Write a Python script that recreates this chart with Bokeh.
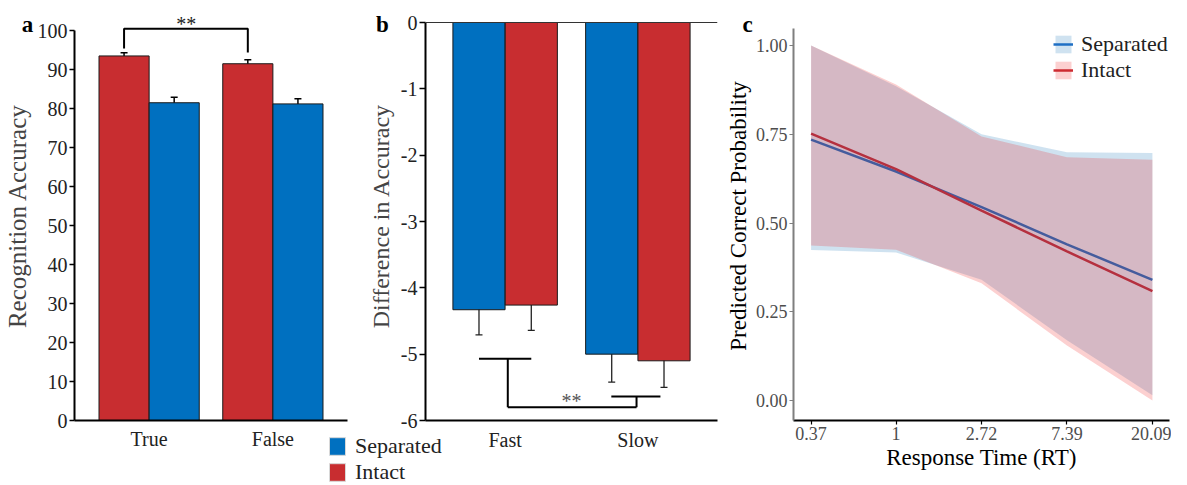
import math
from bokeh.plotting import figure
from bokeh.layouts import row, column
from bokeh.models import (ColumnDataSource, FactorRange, Range1d, Label, Legend,
                          LegendItem, Span, FixedTicker, TeeHead, Whisker)
from bokeh.transform import dodge
from bokeh.embed import file_html
from bokeh.resources import INLINE

FONT = "Liberation Serif"
RED = "#c82d30"
BLUE = "#0070c0"
EDGE = "#1a1a1a"

# ---------------- data: panel a ----------------
a_categories = ["True", "False"]
a_intact = [93.5, 91.5]
a_intact_err = [0.8, 1.0]
a_separated = [81.5, 81.2]
a_separated_err = [1.4, 1.3]
a_yticks = [0, 10, 20, 30, 40, 50, 60, 70, 80, 90, 100]

# ---------------- data: panel b ----------------
b_categories = ["Fast", "Slow"]
b_separated = [-4.33, -5.00]
b_separated_err = [0.38, 0.42]
b_intact = [-4.26, -5.10]
b_intact_err = [0.38, 0.40]
b_yticks = [0, -1, -2, -3, -4, -5, -6]
b_ytick_labels = ["0", "-1", "-2", "-3", "-4", "-5", "-6"]

# ---------------- data: panel c ----------------
c_rt = [0.37, 1, 2.72, 7.39, 20.09]
c_rt_labels = ["0.37", "1", "2.72", "7.39", "20.09"]
c_sep_fit = [0.735, 0.645, 0.545, 0.440, 0.340]
c_sep_lo = [0.424, 0.417, 0.340, 0.170, 0.015]
c_sep_hi = [1.000, 0.885, 0.750, 0.699, 0.697]
c_int_fit = [0.752, 0.652, 0.535, 0.420, 0.308]
c_int_lo = [0.437, 0.425, 0.330, 0.155, 0.000]
c_int_hi = [1.000, 0.890, 0.744, 0.685, 0.678]
c_yticks = [0, 0.25, 0.5, 0.75, 1.0]
c_ytick_labels = ["0.00", "0.25", "0.50", "0.75", "1.00"]

panel_letters = ["a", "b", "c"]
legend_labels = ["Separated", "Intact"]

H = 485
TOP, BOTTOM = 11, 65


def style_common(p):
    p.grid.grid_line_color = None
    p.outline_line_color = None
    p.axis.axis_label_text_font = FONT
    p.axis.axis_label_text_font_style = "normal"
    p.axis.major_label_text_font = FONT
    p.axis.minor_tick_line_color = None


# ================= panel a =================
pa = figure(width=442, height=H, output_backend="svg", toolbar_location=None,
            x_range=FactorRange(*a_categories, range_padding=0.103),
            y_range=Range1d(0, 104.9),
            min_border_left=69, min_border_right=95, min_border_top=TOP, min_border_bottom=BOTTOM)
style_common(pa)
src_a = ColumnDataSource(dict(
    cat=a_categories,
    intact=a_intact,
    intact_lo=[v - e for v, e in zip(a_intact, a_intact_err)],
    intact_hi=[v + e for v, e in zip(a_intact, a_intact_err)],
    sep=a_separated,
    sep_lo=[v - e for v, e in zip(a_separated, a_separated_err)],
    sep_hi=[v + e for v, e in zip(a_separated, a_separated_err)],
))
pa.vbar(x=dodge("cat", -0.2025, range=pa.x_range), top="intact", width=0.405,
        source=src_a, fill_color=RED, line_color=EDGE, line_width=1)
pa.vbar(x=dodge("cat", 0.2025, range=pa.x_range), top="sep", width=0.405,
        source=src_a, fill_color=BLUE, line_color=EDGE, line_width=1)
for off, lo, hi in [(-0.2025, "intact_lo", "intact_hi"), (0.2025, "sep_lo", "sep_hi")]:
    pa.add_layout(Whisker(base=dodge("cat", off, range=pa.x_range), lower=lo, upper=hi,
                          source=src_a, line_color="black", line_width=1.5,
                          upper_head=TeeHead(size=7, line_width=1.5, line_color="black"),
                          lower_head=TeeHead(size=7, line_width=1.5, line_color="black")))
src_br_a = ColumnDataSource(dict(x=[("True", -0.2025), ("True", -0.2025), ("False", -0.2025), ("False", -0.2025)],
                                 y=[95.4, 100.5, 100.5, 94.4]))
pa.line(x="x", y="y", source=src_br_a, line_color="black", line_width=2)
pa.add_layout(Label(x=0.8, y=101.6, text="**", text_font=FONT, text_font_size="20px",
                    text_align="center", text_baseline="alphabetic", text_color="#222222"))

pa.yaxis.ticker = FixedTicker(ticks=a_yticks)
pa.yaxis.bounds = (0, 100)
pa.yaxis.axis_label = "Recognition Accuracy"
pa.axis.axis_label_text_font_size = "25px"
pa.axis.major_label_text_font_size = "20px"
pa.axis.major_label_text_color = "#222222"
pa.axis.axis_line_width = 2
pa.axis.axis_line_color = "black"
pa.yaxis.major_tick_out = 5
pa.yaxis.major_tick_in = 0
pa.yaxis.major_tick_line_width = 1.5
pa.yaxis.major_label_standoff = 2
pa.yaxis.axis_label_standoff = 4
pa.xaxis.major_tick_line_color = None
pa.xaxis.major_tick_out = 0
pa.xaxis.major_label_standoff = 7

# ================= panel b =================
pb = figure(width=358, height=H, output_backend="svg", toolbar_location=None,
            x_range=FactorRange(*b_categories, range_padding=0.1),
            y_range=Range1d(-6.0, 0.166),
            min_border_left=56, min_border_right=5, min_border_top=TOP, min_border_bottom=BOTTOM,
            margin=(0, 0, 0, -78), background_fill_color=None, border_fill_color=None)
style_common(pb)
src_b = ColumnDataSource(dict(
    cat=b_categories,
    sep=b_separated,
    sep_lo=[v - e for v, e in zip(b_separated, b_separated_err)],
    sep_hi=[v + e for v, e in zip(b_separated, b_separated_err)],
    intact=b_intact,
    intact_lo=[v - e for v, e in zip(b_intact, b_intact_err)],
    intact_hi=[v + e for v, e in zip(b_intact, b_intact_err)],
))
pb.vbar(x=dodge("cat", -0.197, range=pb.x_range), top=0, bottom="sep", width=0.393,
        source=src_b, fill_color=BLUE, line_color=EDGE, line_width=1)
pb.vbar(x=dodge("cat", 0.197, range=pb.x_range), top=0, bottom="intact", width=0.393,
        source=src_b, fill_color=RED, line_color=EDGE, line_width=1)
for off, lo, hi in [(-0.197, "sep_lo", "sep_hi"), (0.197, "intact_lo", "intact_hi")]:
    pb.add_layout(Whisker(base=dodge("cat", off, range=pb.x_range), lower=lo, upper=hi,
                          source=src_b, line_color="#222222", line_width=1.3,
                          upper_head=TeeHead(size=7, line_width=1.3, line_color="#222222"),
                          lower_head=TeeHead(size=7, line_width=1.3, line_color="#222222")))
pb.add_layout(Span(location=0, dimension="width", line_color="#333333", line_width=1.2))
src_br_b = ColumnDataSource(dict(
    x0=[("Fast", -0.197), ("Fast", 0.02), ("Fast", 0.02), ("Slow", -0.01), ("Slow", -0.2)],
    x1=[("Fast", 0.197), ("Fast", 0.02), ("Slow", -0.01), ("Slow", -0.01), ("Slow", 0.17)],
    y0=[-5.07, -5.07, -5.80, -5.80, -5.64],
    y1=[-5.07, -5.80, -5.80, -5.64, -5.64],
))
pb.segment(x0="x0", y0="y0", x1="x1", y1="y1", source=src_br_b, line_color="black", line_width=2)
pb.add_layout(Label(x=1.0, y=-5.71, text="**", text_font=FONT, text_font_size="20px",
                    text_align="center", text_baseline="alphabetic", text_color="#555555"))

pb.yaxis.ticker = FixedTicker(ticks=b_yticks)
pb.yaxis.major_label_overrides = dict(zip(b_yticks, b_ytick_labels))
pb.yaxis.bounds = (-6, 0)
pb.yaxis.axis_label = "Difference in Accuracy"
pb.axis.axis_label_text_font_size = "24px"
pb.axis.major_label_text_font_size = "20px"
pb.axis.major_label_text_color = "#222222"
pb.axis.axis_line_width = 2
pb.axis.axis_line_color = "black"
pb.yaxis.major_tick_out = 6
pb.yaxis.major_tick_in = 0
pb.yaxis.major_tick_line_width = 1.5
pb.yaxis.major_label_standoff = 2
pb.yaxis.axis_label_standoff = 4
pb.xaxis.major_tick_line_color = None
pb.xaxis.major_tick_out = 0
pb.xaxis.major_label_standoff = 8

# ================= panel c =================
pc = figure(width=449, height=H, output_backend="svg", toolbar_location=None,
            x_axis_type="log",
            x_range=Range1d(math.exp(-1.2), math.exp(3.2)),
            y_range=Range1d(-0.0563, 1.0958),
            min_border_left=65, min_border_right=2, min_border_top=TOP, min_border_bottom=BOTTOM)
style_common(pc)
l_sep = pc.line(c_rt, c_sep_fit, line_color="#1f6fc4", line_width=2.5)
l_int = pc.line(c_rt, c_int_fit, line_color="#cd2a30", line_width=2.5)
b_sep = pc.varea(x=c_rt, y1=c_sep_lo, y2=c_sep_hi, fill_color="#0f6eb4", fill_alpha=0.2)
b_int = pc.varea(x=c_rt, y1=c_int_lo, y2=c_int_hi, fill_color="#f01414", fill_alpha=0.2)

pc.xaxis.ticker = FixedTicker(ticks=c_rt)
pc.xaxis.major_label_overrides = dict(zip(c_rt, c_rt_labels))
pc.yaxis.ticker = FixedTicker(ticks=c_yticks)
pc.yaxis.major_label_overrides = dict(zip(c_yticks, c_ytick_labels))
pc.yaxis.bounds = (-0.0563, 1.048)
pc.xaxis.axis_label = "Response Time (RT)"
pc.yaxis.axis_label = "Predicted Correct Probability"
pc.axis.axis_label_text_font_size = "23px"
pc.axis.axis_label_text_color = "black"
pc.axis.major_label_text_font_size = "18px"
pc.axis.major_label_text_color = "#4d4d4d"
pc.yaxis.axis_line_color = "#7f7f7f"
pc.yaxis.axis_line_width = 2
pc.yaxis.major_tick_line_color = "#7f7f7f"
pc.xaxis.axis_line_color = "black"
pc.xaxis.axis_line_width = 2
pc.xaxis.major_tick_line_color = "black"
pc.axis.major_tick_out = 4
pc.axis.major_tick_in = 0
pc.axis.major_tick_line_width = 1.2
pc.axis.major_label_standoff = 2
pc.yaxis.axis_label_standoff = 2
pc.xaxis.axis_label_standoff = 2

leg_c = Legend(items=[LegendItem(label=legend_labels[0], renderers=[b_sep, l_sep]),
                      LegendItem(label=legend_labels[1], renderers=[b_int, l_int])],
               location=(260, 337), orientation="vertical",
               glyph_width=20, glyph_height=22, spacing=0, padding=0, margin=0,
               label_standoff=8, label_text_font=FONT, label_text_font_size="22px",
               label_text_color="#222222", background_fill_alpha=0,
               border_line_color=None)
pc.add_layout(leg_c, "center")

# ================= overlay (panel letters + legend of a/b) =================
ov = figure(width=1171, height=H, output_backend="svg", toolbar_location=None,
            x_range=Range1d(0, 1171), y_range=Range1d(H, 0),
            x_axis_location=None, y_axis_location=None, min_border=0,
            background_fill_color=None, border_fill_color=None, outline_line_color=None)
ov.grid.grid_line_color = None
for txt, xpos in zip(panel_letters, [27, 382, 747]):
    ov.add_layout(Label(x=xpos, y=24, text=txt, text_font=FONT, text_font_style="bold",
                        text_font_size="23px", text_align="center", text_baseline="alphabetic",
                        text_color="black"))
nan = float("nan")
sw_sep = ov.vbar(x=[nan], top=[nan], width=1, fill_color=BLUE, line_color="#d8d8d8")
sw_int = ov.vbar(x=[nan], top=[nan], width=1, fill_color=RED, line_color="#d8d8d8")
leg_a = Legend(items=[LegendItem(label=legend_labels[0], renderers=[sw_sep]),
                      LegendItem(label=legend_labels[1], renderers=[sw_int])],
               location=(327, 0), orientation="vertical",
               glyph_width=20, glyph_height=22, spacing=0, padding=0, margin=0,
               label_standoff=8, label_text_font=FONT, label_text_font_size="22px",
               label_text_color="#222222", background_fill_alpha=0,
               border_line_color=None)
ov.add_layout(leg_a, "center")

layout = row(pa, pb, pc, column(ov, margin=(0, 0, 0, -1171)))
open("out.html", "w").write(file_html(layout, INLINE))
